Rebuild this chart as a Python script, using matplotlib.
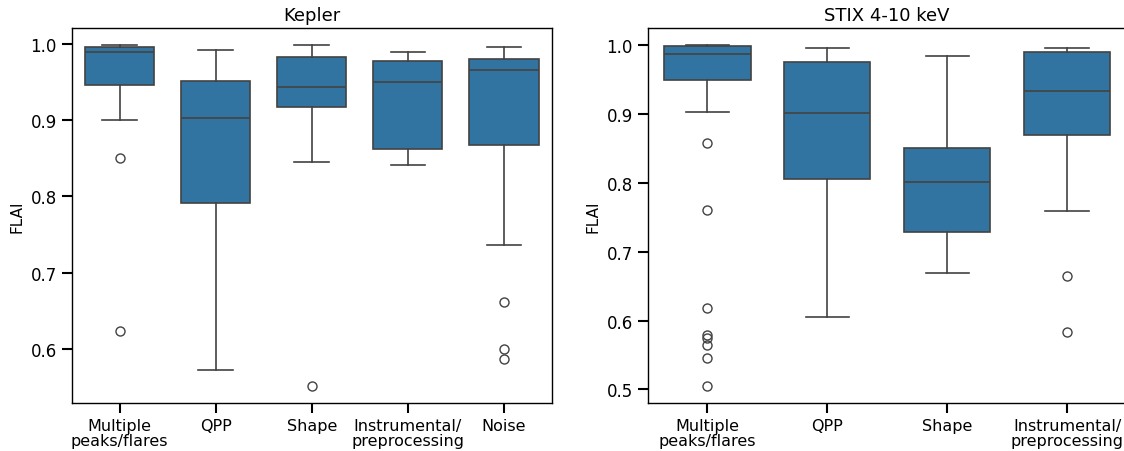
import numpy as np
import matplotlib.pyplot as plt

# FLAI box statistics per anomaly category
kepler_cats = ["Multiple\npeaks/flares", "QPP", "Shape", "Instrumental/\npreprocessing", "Noise"]
kepler_whislo = [0.900, 0.572, 0.845, 0.842, 0.736]
kepler_q1 = [0.946, 0.791, 0.917, 0.863, 0.867]
kepler_med = [0.990, 0.903, 0.944, 0.951, 0.966]
kepler_q3 = [0.996, 0.952, 0.983, 0.978, 0.981]
kepler_whishi = [0.999, 0.992, 0.999, 0.990, 0.997]
kepler_fliers = [[0.851, 0.623], [], [0.551], [], [0.661, 0.600, 0.586]]

stix_cats = ["Multiple\npeaks/flares", "QPP", "Shape", "Instrumental/\npreprocessing"]
stix_whislo = [0.903, 0.605, 0.669, 0.759]
stix_q1 = [0.949, 0.805, 0.729, 0.870]
stix_med = [0.987, 0.902, 0.801, 0.933]
stix_q3 = [0.998, 0.976, 0.851, 0.990]
stix_whishi = [1.000, 0.996, 0.984, 0.996]
stix_fliers = [[0.858, 0.761, 0.618, 0.579, 0.575, 0.565, 0.546, 0.505], [], [], [0.664, 0.583]]

box_color = "#3274a1"
line_color = "#424242"


def draw_box(ax, cats, whislo, q1, med, q3, whishi, fliers, title):
    stats = []
    for i in range(len(cats)):
        stats.append(dict(whislo=whislo[i], q1=q1[i], med=med[i], q3=q3[i],
                          whishi=whishi[i], fliers=fliers[i]))
    lw = 1.2
    ax.bxp(stats, positions=np.arange(len(cats)), widths=0.72, patch_artist=True,
           showfliers=True, capwidths=0.36,
           boxprops=dict(facecolor=box_color, edgecolor=line_color, linewidth=lw),
           medianprops=dict(color=line_color, linewidth=lw),
           whiskerprops=dict(color=line_color, linewidth=lw),
           capprops=dict(color=line_color, linewidth=lw),
           flierprops=dict(marker="o", markerfacecolor="none", markeredgecolor=line_color,
                           markersize=6.5, markeredgewidth=1.0))
    ax.set_xlim(-0.5, len(cats) - 0.5)
    ax.set_xticks(np.arange(len(cats)))
    ax.set_xticklabels(cats, fontsize=11.5, linespacing=1.05)
    ax.tick_params(axis="y", labelsize=12)
    ax.tick_params(length=7, width=1.5)
    ax.set_title(title, fontsize=13)
    ax.set_ylabel("FLAI", fontsize=11)
    for s in ax.spines.values():
        s.set_linewidth(1.0)


fig = plt.figure(figsize=(11.24, 4.52), dpi=100)
ax1 = fig.add_axes([71.5 / 1124, 48 / 452, 480.5 / 1124, 375 / 452])
ax2 = fig.add_axes([647.5 / 1124, 48 / 452, 479.5 / 1124, 375 / 452])

draw_box(ax1, kepler_cats, kepler_whislo, kepler_q1, kepler_med, kepler_q3,
         kepler_whishi, kepler_fliers, "Kepler")
draw_box(ax2, stix_cats, stix_whislo, stix_q1, stix_med, stix_q3,
         stix_whishi, stix_fliers, "STIX 4-10 keV")
ax1.set_yticks([0.6, 0.7, 0.8, 0.9, 1.0])
ax2.set_yticks([0.5, 0.6, 0.7, 0.8, 0.9, 1.0])

fig.savefig("out.png", dpi=100)
